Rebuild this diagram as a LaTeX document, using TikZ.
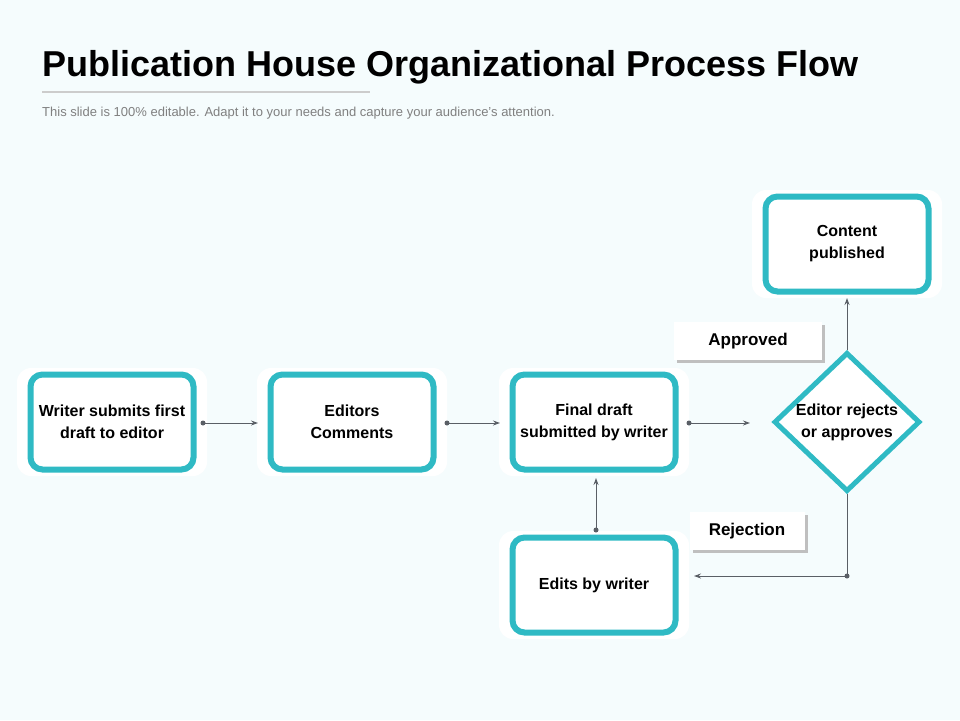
\documentclass[tikz,border=0pt]{standalone}
\usepackage{fontspec}
\setmainfont{Liberation Sans}
\usetikzlibrary{shapes.geometric,arrows.meta}
\definecolor{bg}{HTML}{F5FCFD}
\definecolor{teal}{HTML}{2FBAC4}
\definecolor{ln}{HTML}{5A5F66}
\tikzset{
 x=1pt,y=-1pt,
 box/.style={draw=teal,line width=6pt,fill=white,rounded corners=12pt,minimum width=163pt,minimum height=95pt,align=center,font=\fontsize{16}{22}\selectfont\bfseries},
 glow/.style={fill=white,rounded corners=14pt,minimum width=190pt,minimum height=108pt},
 lab/.style={fill=white,minimum height=38pt,font=\fontsize{17}{20}\selectfont\bfseries},
 conn/.style={draw=ln,line width=1pt,-{Stealth[length=7pt,width=5pt]}},
 dot/.style={circle,fill=ln,inner sep=0pt,minimum size=5pt}
}
\begin{document}
\begin{tikzpicture}
\useasboundingbox (0,0) rectangle (960,720);
\fill[bg] (0,0) rectangle (960,720);
\node[anchor=base west,font=\fontsize{36}{40}\selectfont\bfseries,xscale=1.0,inner sep=0] (title) at (42,76) {Publication House Organizational Process Flow};
\draw[gray!40,line width=1.5pt] (42,92) -- (370,92);
\node[anchor=base west,font=\fontsize{13}{15}\selectfont,text=gray,inner sep=0] (sub) at (42,116) {This slide is 100\% editable. Adapt it to your needs and capture your audience's attention.};
\foreach \x/\y in {112/422,352/422,594/422,594/585,847/244}{\node[glow] at (\x,\y){};}
\node[box] (b1) at (112,422) {Writer submits first\\draft to editor};
\node[box] (b2) at (352,422) {Editors\\Comments};
\node[box] (b3) at (594,422) {Final draft\\submitted by writer};
\node[box] (b4) at (594,585) {Edits by writer};
\node[box] (b5) at (847,244) {Content\\published};
\node[diamond,draw=teal,line width=5pt,fill=white,minimum width=146pt,minimum height=132pt,inner sep=0pt,align=center,font=\fontsize{16}{22}\selectfont\bfseries] (d) at (847,422) {Editor rejects\\or approves};
\fill[gray!50] (677,325) rectangle (825,363);
\node[lab,minimum width=148pt] (ap) at (748,341) {Approved};
\fill[gray!50] (693,515) rectangle (808,553);
\node[lab,minimum width=115pt] (rj) at (747,531) {Rejection};
\coordinate (p1) at (203,423); \coordinate (q1) at (258,423);
\coordinate (p2) at (447,423); \coordinate (q2) at (500,423);
\coordinate (p3) at (689,423); \coordinate (q3) at (750,423);
\coordinate (p4) at (596,530); \coordinate (q4) at (596,478);
\coordinate (c) at (847,576); \coordinate (q5) at (694,576);
\coordinate (q6) at (847,298);
\foreach \i in {1,2,3,4}{\draw[conn] (p\i) -- (q\i); \node[dot] at (p\i){};}
\draw[conn] (d.south) -- (c) -- (q5); \node[dot] at (c){};
\draw[conn] (d.north) -- (q6);
\end{tikzpicture}
\end{document}
